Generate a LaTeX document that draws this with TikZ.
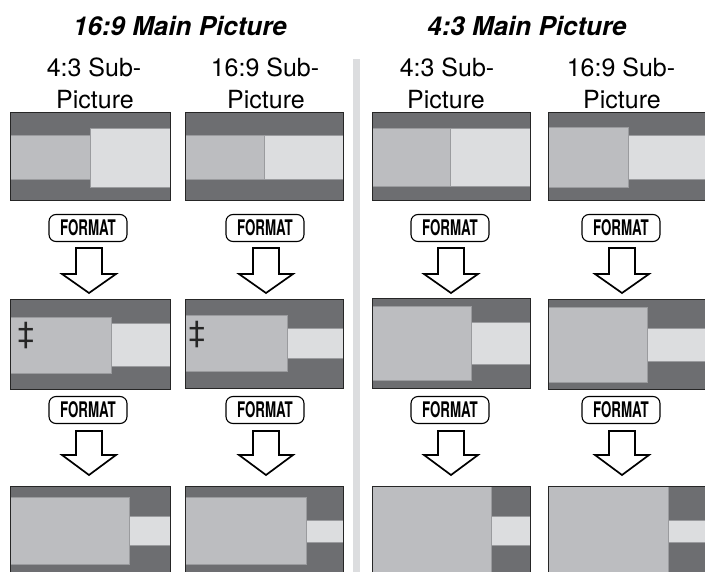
\documentclass[tikz,border=0pt]{standalone}
\usepackage{fontspec}
\setmainfont{TeX Gyre Heros}
\newfontfamily\condfont[FakeStretch=0.62]{TeX Gyre Heros}
\definecolor{dk}{HTML}{6D6E71}
\definecolor{md}{HTML}{BCBDC0}
\definecolor{lt}{HTML}{DCDDDF}
\definecolor{ol}{HTML}{9A9B9E}
\tikzset{
  darkarea/.style={fill=dk},
  medarea/.style={fill=md, draw=ol, line width=0.8pt},
  litarea/.style={fill=lt, draw=ol, line width=0.8pt},
  screenframe/.style={draw=black!85, line width=0.9pt},
  fmtbtn/.style={draw=black, line width=1.1pt, fill=white, rounded corners=7pt,
     minimum width=78pt, minimum height=27pt, inner sep=0pt,
     font=\condfont\bfseries\fontsize{21.5}{23}\selectfont},
  fatarr/.style={draw=black, line width=1.7pt, fill=white, line join=miter},
  maintitle/.style={font=\bfseries\itshape\fontsize{26}{30}\selectfont, anchor=base, inner sep=0pt},
  sublabel/.style={font=\fontsize{25}{30}\selectfont, anchor=base, inner sep=0pt},
  ddag/.style={font=\fontsize{30}{32}\selectfont, inner sep=0pt, text=black!85}
}
\newcommand{\fatarrow}[4]{%
  \draw[fatarr] ({#1-13},#2) -- ({#1+13},#2) -- ({#1+13},#3) -- ({#1+27},#3)
    -- (#1,#4) -- ({#1-27},#3) -- ({#1-13},#3) -- cycle;}
\begin{document}
\begin{tikzpicture}[x=1pt,y=-1pt]
\useasboundingbox (0,0) rectangle (705,571);
\clip (0,0) rectangle (705,571);
\fill[white] (0,0) rectangle (705,571);
% separator
\fill[lt] (353,59) rectangle (360,575);
% titles
\node[maintitle] (t1) at (180,35) {16:9 Main Picture};
\node[maintitle] (t2) at (527,35) {4:3 Main Picture};
% sub labels
\node[sublabel] (s1a) at (94,76) {4:3 Sub-};
\node[sublabel] (s1b) at (95,108) {Picture};
\node[sublabel] (s2a) at (265,76) {16:9 Sub-};
\node[sublabel] (s2b) at (266,108) {Picture};
\node[sublabel] (s3a) at (447,76) {4:3 Sub-};
\node[sublabel] (s3b) at (446,108) {Picture};
\node[sublabel] (s4a) at (621,76) {16:9 Sub-};
\node[sublabel] (s4b) at (622,108) {Picture};
% ---------- row 1 ----------
\fill[darkarea] (10,112) rectangle (170,200);
\filldraw[medarea] (10,135) rectangle (90,179);
\filldraw[litarea] (90,128) rectangle (170,187);
\draw[screenframe] (10,112) rectangle (170,200);
\fill[darkarea] (185,112) rectangle (343,200);
\filldraw[medarea] (185,135) rectangle (264,179);
\filldraw[litarea] (264,135) rectangle (343,179);
\draw[screenframe] (185,112) rectangle (343,200);
\fill[darkarea] (372,112) rectangle (530,200);
\filldraw[medarea] (372,128) rectangle (450,186);
\filldraw[litarea] (450,128) rectangle (530,186);
\draw[screenframe] (372,112) rectangle (530,200);
\fill[darkarea] (548,112) rectangle (712,200);
\filldraw[medarea] (548,127) rectangle (628,187);
\filldraw[litarea] (628,135) rectangle (712,179);
\draw[screenframe] (548,112) rectangle (712,200);
% buttons row 1
\node[fmtbtn] (f11) at (88,228) {FORMAT};
\node[fmtbtn] (f12) at (265,228) {FORMAT};
\node[fmtbtn] (f13) at (450,228) {FORMAT};
\node[fmtbtn] (f14) at (621,228) {FORMAT};
\fatarrow{89}{248}{274}{293}
\fatarrow{266}{248}{274}{293}
\fatarrow{451}{248}{274}{293}
\fatarrow{622}{248}{274}{293}
% ---------- row 2 ----------
\fill[darkarea] (10,299) rectangle (170,389);
\filldraw[medarea] (10,317) rectangle (111,373);
\filldraw[litarea] (111,323) rectangle (170,366);
\draw[screenframe] (10,299) rectangle (170,389);
\node[ddag] (d1) at (26,336) {‡};
\fill[darkarea] (185,299) rectangle (343,388);
\filldraw[medarea] (185,315) rectangle (287,371);
\filldraw[litarea] (287,328) rectangle (343,358);
\draw[screenframe] (185,299) rectangle (343,388);
\node[ddag] (d2) at (197,335) {‡};
\fill[darkarea] (372,298) rectangle (530,388);
\filldraw[medarea] (372,306) rectangle (471,380);
\filldraw[litarea] (471,322) rectangle (530,364);
\draw[screenframe] (372,298) rectangle (530,388);
\fill[darkarea] (548,299) rectangle (712,389);
\filldraw[medarea] (548,307) rectangle (647,382);
\filldraw[litarea] (647,328) rectangle (712,361);
\draw[screenframe] (548,299) rectangle (712,389);
% buttons row 2
\node[fmtbtn] (f21) at (88,410) {FORMAT};
\node[fmtbtn] (f22) at (265,410) {FORMAT};
\node[fmtbtn] (f23) at (450,410) {FORMAT};
\node[fmtbtn] (f24) at (621,410) {FORMAT};
\fatarrow{89}{431}{455}{475}
\fatarrow{266}{431}{455}{475}
\fatarrow{451}{431}{455}{475}
\fatarrow{622}{431}{455}{475}
% ---------- row 3 ----------
\fill[darkarea] (10,486) rectangle (170,580);
\filldraw[medarea] (10,497) rectangle (129,564);
\filldraw[litarea] (129,516) rectangle (170,545);
\draw[screenframe] (10,486) rectangle (170,580);
\fill[darkarea] (185,486) rectangle (343,580);
\filldraw[medarea] (185,497) rectangle (306,564);
\filldraw[litarea] (306,520) rectangle (343,542);
\draw[screenframe] (185,486) rectangle (343,580);
\fill[darkarea] (372,486) rectangle (530,580);
\filldraw[medarea] (372,486) rectangle (491,580);
\filldraw[litarea] (491,516) rectangle (530,545);
\draw[screenframe] (372,486) rectangle (530,580);
\fill[darkarea] (548,486) rectangle (712,580);
\filldraw[medarea] (548,486) rectangle (668,580);
\filldraw[litarea] (668,520) rectangle (712,542);
\draw[screenframe] (548,486) rectangle (712,580);
\end{tikzpicture}
\end{document}
